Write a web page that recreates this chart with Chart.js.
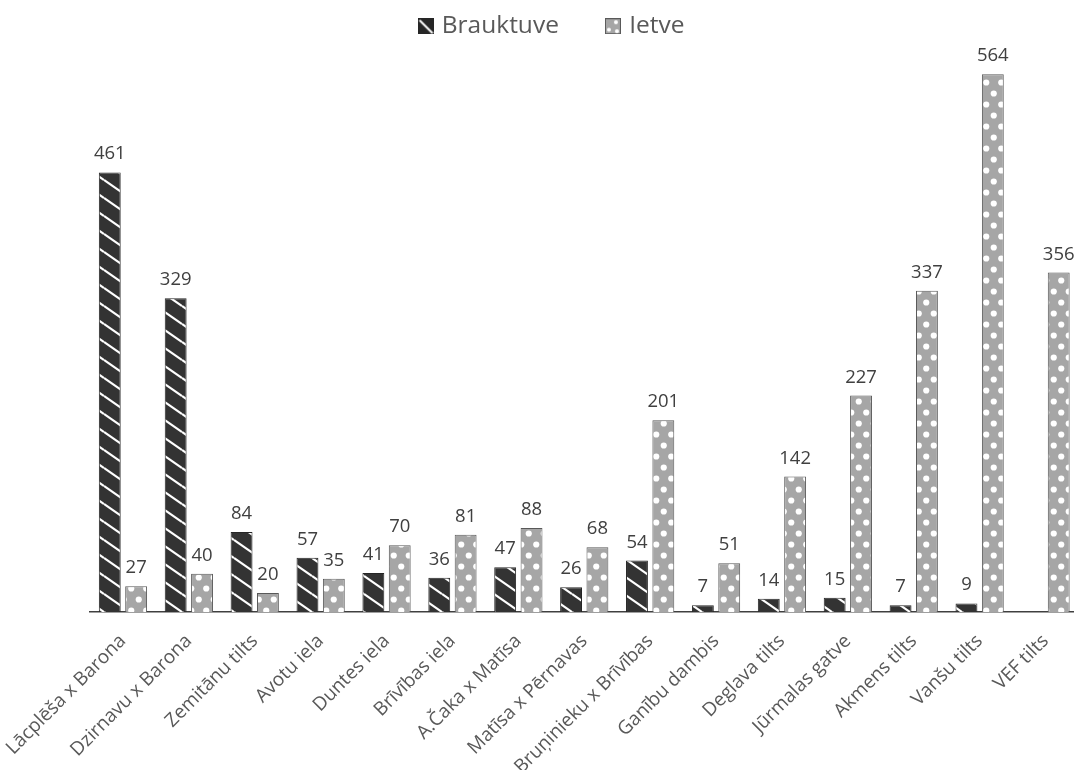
<!DOCTYPE html>
<html><head><meta charset="utf-8">
<script src="https://cdn.jsdelivr.net/npm/chart.js@4.4.1/dist/chart.umd.min.js"></script>
<style>html,body{margin:0;padding:0;background:#fff;overflow:hidden;width:1074px;height:770px;}
#wrap{width:1080px;height:770px;position:relative;}
</style></head><body><div id="wrap"><canvas id="c"></canvas></div>
<script>
const categories = ['Lācplēša x Barona','Dzirnavu x Barona','Zemitānu tilts','Avotu iela','Duntes iela','Brīvības iela','A.Čaka x Matīsa','Matīsa x Pērnavas','Bruņinieku x Brīvības','Ganību dambis','Deglava tilts','Jūrmalas gatve','Akmens tilts','Vanšu tilts','VEF tilts'];
const brauktuve = [461,329,84,57,41,36,47,26,54,7,14,15,7,9,null];
const ietve = [27,40,20,35,70,81,88,68,201,51,142,227,337,564,356];
const seriesNames = ['Brauktuve','Ietve'];

const FONT = '"Open Sans", "Noto Sans", sans-serif';
const DARK = '#333333', GREY = '#a6a6a6';

function hatchPattern(){
  const c=document.createElement('canvas'); c.width=26; c.height=18;
  const x=c.getContext('2d'); x.fillStyle=DARK; x.fillRect(0,0,26,18);
  x.strokeStyle='#ffffff'; x.lineWidth=2.2;
  for(const k of [-1,0,1]){ x.beginPath(); x.moveTo(0,k*18); x.lineTo(26,18+k*18); x.stroke(); }
  return c;
}
function dotPattern(){
  const c=document.createElement('canvas'); c.width=15; c.height=22;
  const x=c.getContext('2d'); x.fillStyle=GREY; x.fillRect(0,0,15,22);
  x.fillStyle='#ffffff';
  for(const [px,py] of [[3.75,5.5],[11.25,16.5]]){ x.beginPath(); x.arc(px,py,3.1,0,Math.PI*2); x.fill(); }
  return c;
}
function legendIcon(type){
  const c=document.createElement('canvas'); c.width=16; c.height=16;
  const x=c.getContext('2d');
  if(type===0){
    x.fillStyle='#262626'; x.fillRect(0,0,16,16);
    x.strokeStyle='#fff'; x.lineWidth=2; x.beginPath(); x.moveTo(2,2); x.lineTo(15,15); x.stroke();
  } else {
    x.fillStyle=GREY; x.fillRect(0,0,16,16);
    x.strokeStyle='#595959'; x.lineWidth=1; x.strokeRect(0.5,0.5,15,15);
    x.fillStyle='#fff';
    for(const [px,py] of [[11,4],[4,11.5],[12,13]]){ x.beginPath(); x.arc(px,py,2,0,Math.PI*2); x.fill(); }
  }
  return c;
}
const ctx0=document.getElementById('c').getContext('2d');
const hatch=ctx0.createPattern(hatchPattern(),'repeat');
const dots=ctx0.createPattern(dotPattern(),'repeat');
const icons=[legendIcon(0),legendIcon(1)];

const valueLabels={id:'valueLabels',afterDatasetsDraw(chart){
  const ctx=chart.ctx; ctx.save();
  ctx.font='18.5px '+FONT; ctx.fillStyle='#404040'; ctx.textAlign='center'; ctx.textBaseline='alphabetic';
  chart.data.datasets.forEach((ds,i)=>{
    chart.getDatasetMeta(i).data.forEach((el,j)=>{
      const v=ds.data[j]; if(v==null) return;
      ctx.fillText(String(v), el.x, el.y-13);
    });
  });
  ctx.restore();
}};

new Chart(document.getElementById('c'),{
  type:'bar',
  data:{labels:categories,datasets:[
    {label:seriesNames[0],data:brauktuve,backgroundColor:hatch,borderColor:'#262626',borderWidth:1},
    {label:seriesNames[1],data:ietve,backgroundColor:dots,borderColor:'#595959',borderWidth:1}
  ]},
  options:{
    responsive:true,maintainAspectRatio:false,animation:false,
    devicePixelRatio:1,
    layout:{padding:{top:-36,left:26,right:0,bottom:0}},
    datasets:{bar:{categoryPercentage:0.8,barPercentage:0.83}},
    plugins:{
      legend:{position:'top',labels:{usePointStyle:true,pointStyleWidth:8,font:{family:FONT,size:24.5},color:'#595959',padding:50,
        generateLabels(chart){
          const items=Chart.defaults.plugins.legend.labels.generateLabels(chart);
          items.forEach((it,i)=>{it.pointStyle=icons[i];});
          return items;
        }}},
      tooltip:{enabled:false}
    },
    scales:{
      x:{grid:{display:false,drawTicks:false},border:{display:true,color:'#404040',width:1.5},
        ticks:{font:{family:FONT,size:19},color:'#595959',minRotation:45,maxRotation:45,padding:18,autoSkip:false},
        afterFit(scale){ scale.paddingLeft=90; scale.paddingRight=1.5; scale.height=158; }},
      y:{display:false,min:0,max:591}
    }
  },
  plugins:[valueLabels]
});
</script></body></html>
